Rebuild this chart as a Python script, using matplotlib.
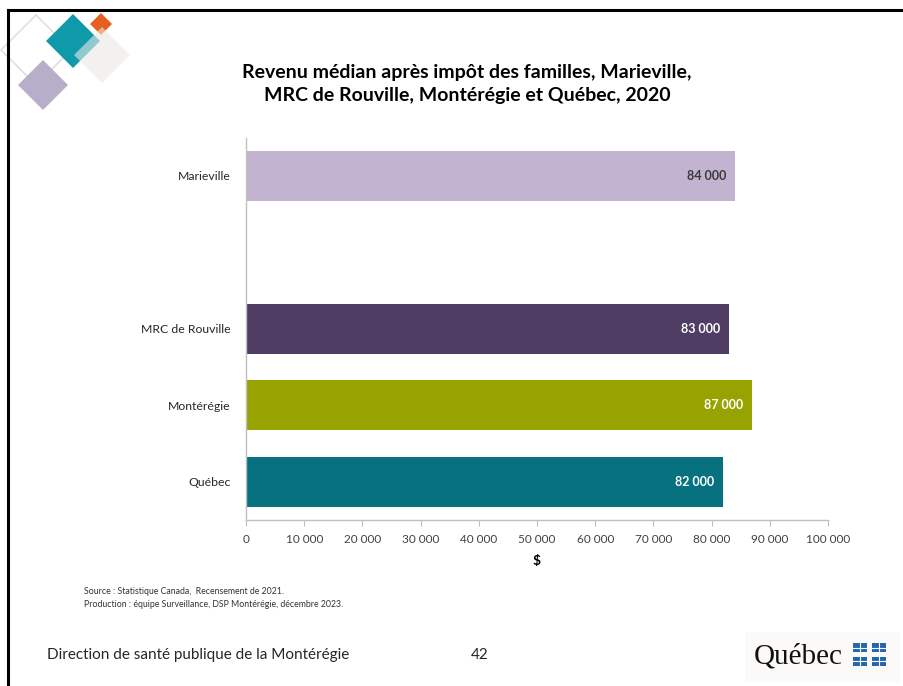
import numpy as np
import matplotlib.pyplot as plt
from matplotlib.patches import Polygon, Rectangle
from matplotlib.lines import Line2D

plt.rcParams.update({
    "font.family": ["Lato", "DejaVu Sans"],
})

categories = ["Marieville", "", "MRC de Rouville", "Montérégie", "Québec"]
values = [84000, np.nan, 83000, 87000, 82000]
bar_colors = ["#C2B3D1", "none", "#4F3D63", "#97A300", "#08717F"]
label_colors = ["#3A3A3A", None, "white", "white", "white"]
xticks = list(range(0, 100001, 10000))

title = "Revenu médian après impôt des familles, Marieville,\nMRC de Rouville, Montérégie et Québec, 2020"
source = ("Source : Statistique Canada,  Recensement de 2021.\n"
          "Production : équipe Surveillance, DSP Montérégie, décembre 2023.")

W, H = 904, 686
fig = plt.figure(figsize=(W / 100, H / 100), dpi=100)


def fx(px):
    return px / W


def fy(py):
    return 1 - py / H


# slide frame
fig.add_artist(Line2D([fx(8), fx(904)], [fy(10), fy(10)], color="black", lw=2.2))
fig.add_artist(Line2D([fx(8), fx(8)], [fy(10), fy(686)], color="black", lw=2.2))


def diamond(cx, cy, r, **kw):
    pts = [(fx(cx), fy(cy - r)), (fx(cx + r), fy(cy)),
           (fx(cx), fy(cy + r)), (fx(cx - r), fy(cy))]
    fig.add_artist(Polygon(pts, closed=True, transform=fig.transFigure, **kw))


# decorative logo
diamond(36, 50, 35, facecolor="none", edgecolor="#DDE2D6", lw=1.2)
diamond(43, 85, 25, facecolor="#B7AECA", edgecolor="none")
diamond(73, 41, 27, facecolor="#0F9AAA", edgecolor="none")
diamond(101, 24, 11, facecolor="#E5601E", edgecolor="none")
diamond(102, 55, 28, facecolor="#ECE9E7", edgecolor="none", alpha=0.6)

# chart
ax_top, ax_bot = 137.5, 520
ax = fig.add_axes([fx(246), fy(ax_bot), fx(828) - fx(246), (ax_bot - ax_top) / H])
y = np.arange(len(categories))
for i, (v, c) in enumerate(zip(values, bar_colors)):
    if np.isnan(v):
        continue
    ax.barh(y[i], v, height=0.66, color=c, edgecolor="none")
    ax.text(v - 1500, y[i], f"{v:,.0f}".replace(",", " "), ha="right", va="center",
            fontsize=9, fontweight="bold", color=label_colors[i])

ax.set_ylim(len(categories) - 0.5, -0.5)
ax.set_xlim(0, 100000)
ax.set_yticks(y)
ax.set_yticklabels(categories, fontsize=8.8, color="#262626")
ax.set_xticks(xticks)
ax.set_xticklabels([f"{t:,}".replace(",", " ") for t in xticks], fontsize=8.5, color="#404040")
ax.tick_params(axis="y", length=0, pad=11)
ax.tick_params(axis="x", length=4, color="#BFBFBF", pad=6)
for s in ["top", "right"]:
    ax.spines[s].set_visible(False)
for s in ["left", "bottom"]:
    ax.spines[s].set_color("#C0C0C0")
    ax.spines[s].set_linewidth(1.0)
ax.set_xlabel("$", fontsize=10, fontweight="bold", labelpad=7)

fig.text(fx(467), fy(84), title, ha="center", va="center", fontsize=14,
         fontweight="bold", color="black", linespacing=1.45)

fig.text(fx(84), fy(598), source, ha="left", va="center", fontsize=6.3,
         color="#333333", linespacing=1.5)

fig.text(fx(47), fy(655), "Direction de santé publique de la Montérégie",
         ha="left", va="center", fontsize=11, color="#262626")
fig.text(fx(480), fy(655), "42", ha="center", va="center", fontsize=11, color="#262626")

# Québec signature
fig.add_artist(Rectangle((fx(745), fy(682)), fx(155), 50 / H, transform=fig.transFigure,
                         facecolor="#FBFAF8", edgecolor="none"))
fig.text(fx(754), fy(656), "Québec", ha="left", va="center", fontsize=21,
         family="Liberation Serif", color="#111111")
for (cx, cy) in [(860.5, 647.5), (879, 647.5), (860.5, 661), (879, 661)]:
    fig.add_artist(Rectangle((fx(cx - 7), fy(cy + 4.5)), fx(14), 9 / H,
                             transform=fig.transFigure, facecolor="#2266B0", edgecolor="none"))
    fig.add_artist(Line2D([fx(cx - 7), fx(cx + 7)], [fy(cy), fy(cy)], color="white", lw=0.8))
    fig.add_artist(Line2D([fx(cx), fx(cx)], [fy(cy - 4.5), fy(cy + 4.5)], color="white", lw=0.8))

fig.savefig("out.png", dpi=100)
